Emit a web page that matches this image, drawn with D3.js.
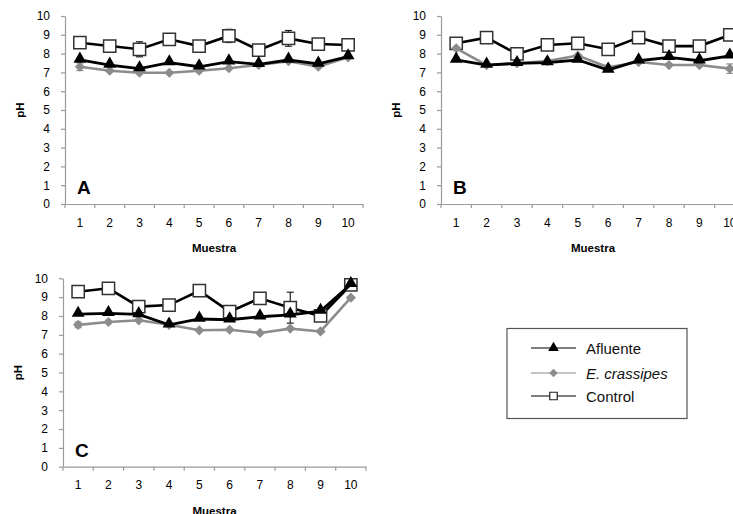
<!DOCTYPE html>
<html>
<head>
<meta charset="utf-8">
<script src="https://cdn.jsdelivr.net/npm/d3@7"></script>
<style>
  html, body { margin: 0; padding: 0; background: #fff; }
  svg { display: block; font-family: "Liberation Sans", Arial, sans-serif; }
</style>
</head>
<body>
<svg id="chart" width="733" height="514"></svg>
<script>
// Sample numbers along the x axis
const samples = ["1", "2", "3", "4", "5", "6", "7", "8", "9", "10"];
const yTicks = [0, 1, 2, 3, 4, 5, 6, 7, 8, 9, 10];

// Panel A
const aAfluente  = [7.66, 7.39, 7.2, 7.52, 7.3, 7.57, 7.43, 7.66, 7.45, 7.84];
const aCrassipes = [7.3, 7.09, 6.98, 6.98, 7.09, 7.22, 7.4, 7.6, 7.3, 7.8];
const aControl   = [8.58, 8.4, 8.23, 8.76, 8.4, 8.94, 8.19, 8.81, 8.51, 8.46];
const aControlErr   = [0, 0, 0.4, 0, 0, 0.35, 0, 0.42, 0, 0];
const aCrassipesErr = [0.2, 0, 0, 0, 0, 0, 0, 0, 0, 0];

// Panel B
const bAfluente  = [7.66, 7.39, 7.48, 7.52, 7.66, 7.13, 7.62, 7.8, 7.62, 7.88];
const bCrassipes = [8.28, 7.39, 7.48, 7.6, 7.9, 7.27, 7.55, 7.39, 7.39, 7.2];
const bControl   = [8.55, 8.85, 7.98, 8.46, 8.55, 8.23, 8.85, 8.4, 8.4, 8.99];
const bControlErr   = [0, 0, 0, 0, 0, 0, 0, 0, 0, 0];
const bCrassipesErr = [0, 0, 0, 0, 0, 0, 0, 0, 0, 0.25];

// Panel C
const cAfluente  = [8.1, 8.14, 8.08, 7.53, 7.84, 7.8, 7.96, 8.06, 8.26, 9.68];
const cCrassipes = [7.53, 7.68, 7.77, 7.53, 7.24, 7.27, 7.1, 7.33, 7.18, 8.97];
const cControl   = [9.29, 9.47, 8.5, 8.58, 9.34, 8.23, 8.94, 8.44, 8.0, 9.65];
const cControlErr   = [0, 0, 0, 0, 0, 0, 0.3, 0.82, 0, 0];
const cCrassipesErr = [0.15, 0, 0, 0, 0, 0, 0, 0, 0, 0];

const seriesNames = ["Afluente", "E. crassipes", "Control"];

const svg = d3.select("#chart");
const GREY = "#8c8c8c";
const AXIS = "#9a9a9a";

const triangle = d3.symbol().type(d3.symbolTriangle).size(72);
const square = d3.symbol().type(d3.symbolSquare).size(150);
const diamond = d3.symbol().type(d3.symbolSquare).size(52);

function drawPanel(p) {
  const x = d3.scaleBand().domain(samples).range([p.x0, p.x1]).padding(0);
  const y = d3.scaleLinear().domain([0, 10]).range([p.yBottom, p.yTop]);
  const cx = i => x(samples[i]) + x.bandwidth() / 2;
  const g = svg.append("g");

  // y axis
  const yAxis = g.append("g")
    .attr("transform", `translate(${p.x0},0)`)
    .call(d3.axisLeft(y).tickValues(yTicks).tickFormat(d3.format("d")).tickSize(4).tickPadding(11).tickSizeOuter(0));
  // x axis
  const xAxis = g.append("g")
    .attr("transform", `translate(0,${p.yBottom})`)
    .call(d3.axisBottom(x).tickSize(0).tickPadding(14).tickSizeOuter(0));
  [yAxis, xAxis].forEach(a => {
    a.select(".domain").attr("stroke", AXIS).attr("stroke-width", 1.2);
    a.selectAll(".tick line").attr("stroke", AXIS).attr("stroke-width", 1.2);
    a.selectAll("text").attr("fill", "#000").attr("font-size", 12)
      .attr("font-family", "Liberation Sans, Arial, sans-serif");
  });
  // ticks at the category boundaries
  const bounds = samples.map(s => x(s)).concat([p.x1]);
  xAxis.selectAll(".bound").data(bounds).join("line")
    .attr("class", "bound")
    .attr("x1", d => d).attr("x2", d => d)
    .attr("y1", 0).attr("y2", 4)
    .attr("stroke", AXIS).attr("stroke-width", 1.2);

  // axis titles
  g.append("text")
    .attr("x", (p.x0 + p.x1) / 2).attr("y", p.yBottom + 48)
    .attr("text-anchor", "middle").attr("font-size", 11.5).attr("font-weight", "bold")
    .text("Muestra");
  g.append("text")
    .attr("transform", `translate(${p.x0 - 41},${(p.yTop + p.yBottom) / 2}) rotate(-90)`)
    .attr("text-anchor", "middle").attr("font-size", 11.5).attr("font-weight", "bold")
    .text("pH");

  // panel letter
  g.append("text")
    .attr("x", p.x0 + 12).attr("y", p.yBottom - 10)
    .attr("font-size", 19).attr("font-weight", "bold")
    .text(p.letter);

  const line = d3.line().x((d, i) => cx(i)).y(d => y(d));

  function errorBars(vals, errs, color) {
    const eb = g.append("g").attr("stroke", color).attr("stroke-width", 1.2);
    vals.forEach((v, i) => {
      if (!errs[i]) return;
      eb.append("line").attr("x1", cx(i)).attr("x2", cx(i))
        .attr("y1", y(v - errs[i])).attr("y2", y(v + errs[i]));
      [v - errs[i], v + errs[i]].forEach(e => {
        eb.append("line").attr("x1", cx(i) - 3.5).attr("x2", cx(i) + 3.5)
          .attr("y1", y(e)).attr("y2", y(e));
      });
    });
  }

  // Control (drawn first, behind)
  errorBars(p.control, p.controlErr, "#222");
  g.append("path").datum(p.control).attr("d", line)
    .attr("fill", "none").attr("stroke", "#000").attr("stroke-width", 2.6);
  g.append("g").selectAll("path").data(p.control).join("path")
    .attr("d", square)
    .attr("transform", (d, i) => `translate(${cx(i)},${y(d)})`)
    .attr("fill", "#fff").attr("stroke", "#333").attr("stroke-width", 1.5);

  // E. crassipes
  errorBars(p.crassipes, p.crassipesErr, GREY);
  g.append("path").datum(p.crassipes).attr("d", line)
    .attr("fill", "none").attr("stroke", GREY).attr("stroke-width", 2.6);
  g.append("g").selectAll("path").data(p.crassipes).join("path")
    .attr("d", diamond)
    .attr("transform", (d, i) => `translate(${cx(i)},${y(d)}) rotate(45)`)
    .attr("fill", GREY);

  // Afluente (on top)
  g.append("path").datum(p.afluente).attr("d", line)
    .attr("fill", "none").attr("stroke", "#000").attr("stroke-width", 2.8);
  g.append("g").selectAll("path").data(p.afluente).join("path")
    .attr("d", triangle)
    .attr("transform", (d, i) => `translate(${cx(i)},${y(d) - 1})`)
    .attr("fill", "#000");
}

drawPanel({ letter: "A", x0: 65, x1: 363, yTop: 16, yBottom: 204,
  afluente: aAfluente, crassipes: aCrassipes, control: aControl,
  controlErr: aControlErr, crassipesErr: aCrassipesErr });
drawPanel({ letter: "B", x0: 441, x1: 745, yTop: 16, yBottom: 204,
  afluente: bAfluente, crassipes: bCrassipes, control: bControl,
  controlErr: bControlErr, crassipesErr: bCrassipesErr });
drawPanel({ letter: "C", x0: 63, x1: 366, yTop: 278.3, yBottom: 466.7,
  afluente: cAfluente, crassipes: cCrassipes, control: cControl,
  controlErr: cControlErr, crassipesErr: cCrassipesErr });

// Legend
const leg = svg.append("g");
leg.append("rect").attr("x", 507).attr("y", 328.5).attr("width", 180).attr("height", 90)
  .attr("fill", "#fff").attr("stroke", "#555").attr("stroke-width", 1.2);
const legRows = [
  { name: seriesNames[0], y: 348, color: "#000", sym: d3.symbol().type(d3.symbolTriangle).size(50), fill: "#000", stroke: "none", rot: 0, italic: false },
  { name: seriesNames[1], y: 373, color: GREY, sym: d3.symbol().type(d3.symbolSquare).size(36), fill: GREY, stroke: "none", rot: 45, italic: true },
  { name: seriesNames[2], y: 396, color: "#000", sym: d3.symbol().type(d3.symbolSquare).size(56), fill: "#fff", stroke: "#222", rot: 0, italic: false }
];
legRows.forEach(r => {
  leg.append("line").attr("x1", 531).attr("x2", 576).attr("y1", r.y).attr("y2", r.y)
    .attr("stroke", r.color).attr("stroke-width", 1.2);
  leg.append("path").attr("d", r.sym)
    .attr("transform", `translate(553.5,${r.y}) rotate(${r.rot})`)
    .attr("fill", r.fill).attr("stroke", r.stroke).attr("stroke-width", 1.2);
  leg.append("text").attr("x", 586).attr("y", r.y + 5.5)
    .attr("font-size", 15).attr("fill", "#111")
    .attr("font-style", r.italic ? "italic" : "normal")
    .text(r.name);
});
</script>
</body>
</html>
